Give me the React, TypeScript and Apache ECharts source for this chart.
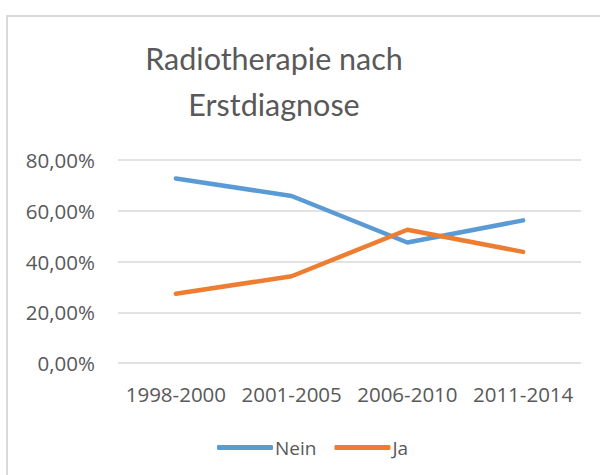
import React, { useEffect, useRef } from "react";
import * as echarts from "echarts";

const categories = ["1998-2000", "2001-2005", "2006-2010", "2011-2014"];
const nein = [72.7, 65.8, 47.5, 56.2];
const ja = [27.3, 34.2, 52.5, 43.8];
const titleText = "Radiotherapie nach\nErstdiagnose";

const TEXT = "#595959";
const TITLE_FONT = "Lato";
const FONT = "Open Sans";

export default function App() {
  const ref = useRef<HTMLDivElement>(null);
  useEffect(() => {
    if (!ref.current) return;
    const chart = echarts.init(ref.current, undefined, { renderer: "svg" });
    chart.setOption({
      animation: false,
      backgroundColor: "#ffffff",
      title: {
        text: titleText,
        left: 269,
        top: 30,
        textAlign: "center",
        textStyle: {
          fontFamily: TITLE_FONT,
          fontSize: 30.5,
          fontWeight: "normal",
          color: TEXT,
          lineHeight: 46,
        },
      },
      graphic: [
        {
          type: "rect",
          shape: { x: 7, y: 16, width: 700, height: 600 },
          style: { fill: "none", stroke: "#d9d9d9", lineWidth: 2 },
          silent: true,
        },
      ],
      grid: { left: 118, right: 19, top: 160, bottom: 112 },
      legend: {
        left: 212,
        top: 433,
        icon: "roundRect",
        itemWidth: 56,
        itemHeight: 5,
        itemGap: 18,
        textStyle: { fontFamily: FONT, fontSize: 19, color: TEXT, padding: [0, 0, 0, -3] },
        data: ["Nein", "Ja"],
      },
      xAxis: {
        type: "category",
        data: categories,
        boundaryGap: true,
        axisLine: { show: false },
        axisTick: { show: false },
        axisLabel: { fontFamily: FONT, fontSize: 20.5, color: TEXT, margin: 20, interval: 0 },
      },
      yAxis: {
        type: "value",
        min: 0,
        max: 80,
        interval: 20,
        axisLine: { show: false },
        axisTick: { show: false },
        splitLine: { lineStyle: { color: "#d9d9d9", width: 1.5 } },
        axisLabel: {
          fontFamily: FONT,
          fontSize: 20.5,
          color: TEXT,
          margin: 23,
          formatter: (v: number) => v.toFixed(2).replace(".", ",") + "%",
        },
      },
      series: [
        {
          name: "Nein",
          type: "line",
          data: nein,
          symbol: "none",
          itemStyle: { color: "#5b9bd5" },
          lineStyle: { color: "#5b9bd5", width: 4.5, cap: "round", join: "round" },
        },
        {
          name: "Ja",
          type: "line",
          data: ja,
          symbol: "none",
          itemStyle: { color: "#ed7d31" },
          lineStyle: { color: "#ed7d31", width: 4.5, cap: "round", join: "round" },
        },
      ],
    });
    return () => chart.dispose();
  }, []);
  return (
    <div
      ref={ref}
      style={{ position: "absolute", left: 0, top: 0, width: 600, height: 475, background: "#fff" }}
    />
  );
}
